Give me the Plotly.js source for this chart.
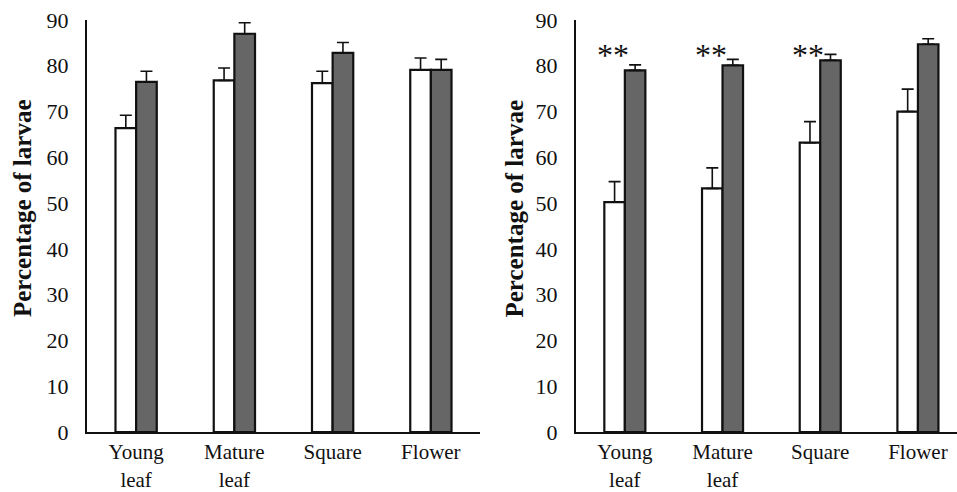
<!DOCTYPE html>
<html>
<head>
<meta charset="utf-8">
<script src="https://cdn.plot.ly/plotly-3.0.1.min.js"></script>
<style>html,body{margin:0;padding:0;background:#fff;}#chart{width:957px;height:492px;}</style>
</head>
<body>
<div id="chart"></div>
<script>
var categories = ["Young<br>leaf", "Mature<br>leaf", "Square", "Flower"];
var yTickVals = [0, 10, 20, 30, 40, 50, 60, 70, 80, 90];
var leftWhite = [66.4, 76.8, 76.2, 79.1];
var leftWhiteErr = [2.8, 2.7, 2.6, 2.6];
var leftGray = [76.5, 87.0, 82.8, 79.1];
var leftGrayErr = [2.3, 2.4, 2.3, 2.3];
var rightWhite = [50.2, 53.2, 63.2, 70.0];
var rightWhiteErr = [4.5, 4.5, 4.6, 4.9];
var rightGray = [79.0, 80.1, 81.2, 84.7];
var rightGrayErr = [1.2, 1.3, 1.3, 1.2];
var sigMarks = ["**", "**", "**", ""];
var yTitle = "Percentage of larvae";

var FONT = "Liberation Serif, Times New Roman, serif";
function zeros(n){var a=[];for(var i=0;i<n;i++)a.push(0);return a;}
function barTrace(y, err, fill, xa, ya){
  return {
    type: "bar", x: categories, y: y, xaxis: xa, yaxis: ya,
    marker: {color: fill, line: {color: "#111", width: 2.2}},
    error_y: {type: "data", symmetric: false, array: err, arrayminus: zeros(err.length),
      color: "#111", thickness: 1.6, width: 6},
    showlegend: false, hoverinfo: "skip"
  };
}
var data = [
  barTrace(leftWhite, leftWhiteErr, "#ffffff", "x", "y"),
  barTrace(leftGray, leftGrayErr, "#666666", "x", "y"),
  barTrace(rightWhite, rightWhiteErr, "#ffffff", "x2", "y2"),
  barTrace(rightGray, rightGrayErr, "#666666", "x2", "y2")
];

function xAxis(domain, range, anchor){
  return {domain: domain, range: range, anchor: anchor, type: "category",
    showline: true, linecolor: "#111", linewidth: 2, ticks: "", showgrid: false,
    zeroline: false, tickfont: {family: FONT, size: 21, color: "#111"},
    ticklabelstandoff: 0, fixedrange: true};
}
function yAxis(domain, anchor){
  return {domain: domain, anchor: anchor, range: [0, 90], tickvals: yTickVals,
    showline: true, linecolor: "#111", linewidth: 2, ticks: "", showgrid: false,
    zeroline: false, tickfont: {family: FONT, size: 22, color: "#111"},
    ticklabelstandoff: 12, fixedrange: true};
}

var annotations = [];
for (var i = 0; i < sigMarks.length; i++) {
  if (!sigMarks[i]) continue;
  annotations.push({xref: "x2", yref: "y2", x: i, y: 82.4, text: sigMarks[i],
    showarrow: false, xshift: -12, font: {family: FONT, size: 32, color: "#111"}});
}
[22.5, 514].forEach(function(px){
  annotations.push({xref: "paper", yref: "paper", x: px/957, y: (432-208.5)/412,
    xanchor: "center", yanchor: "middle", textangle: -90, showarrow: false,
    text: "<b>" + yTitle + "</b>", font: {family: FONT, size: 25, color: "#111"}});
});

var layout = {
  width: 957, height: 492,
  margin: {l: 0, r: 0, t: 20, b: 60},
  paper_bgcolor: "#fff", plot_bgcolor: "#fff",
  barmode: "group", bargap: 0.58, bargroupgap: 0,
  xaxis: xAxis([87/957, 480/957], [-0.5, 3.5], "y"),
  yaxis: yAxis([0, 1], "x"),
  xaxis2: xAxis([576/957, 1], [-0.5, 3.4], "y2"),
  yaxis2: yAxis([0, 1], "x2"),
  annotations: annotations
};

Plotly.newPlot("chart", data, layout, {displayModeBar: false, staticPlot: true});
</script>
</body>
</html>
